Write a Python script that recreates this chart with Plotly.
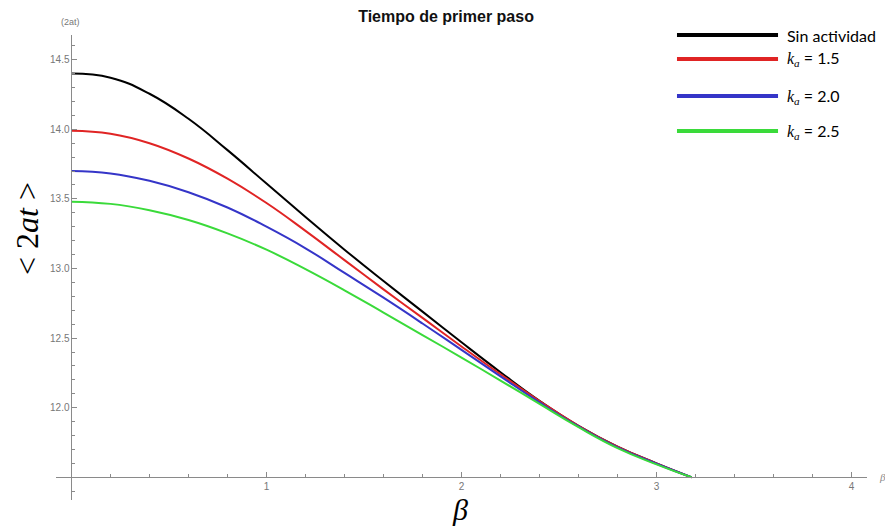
import plotly.graph_objects as go

# ---- data ----
beta = [0, 0.2, 0.4, 0.6, 0.8, 1.0, 1.2, 1.4, 1.6, 1.8, 2.0, 2.2, 2.4, 2.6, 2.8, 3.0, 3.18]
sin_actividad = [14.40, 14.37, 14.255, 14.075, 13.85, 13.61, 13.37, 13.135, 12.91, 12.69, 12.47, 12.255, 12.05, 11.87, 11.72, 11.60, 11.50]
ka_15 = [13.99, 13.968, 13.90, 13.79, 13.645, 13.47, 13.27, 13.06, 12.85, 12.645, 12.44, 12.24, 12.048, 11.87, 11.72, 11.60, 11.50]
ka_20 = [13.70, 13.683, 13.63, 13.548, 13.438, 13.30, 13.145, 12.968, 12.79, 12.605, 12.415, 12.225, 12.038, 11.865, 11.715, 11.597, 11.50]
ka_25 = [13.48, 13.464, 13.418, 13.348, 13.252, 13.135, 12.995, 12.843, 12.683, 12.522, 12.36, 12.195, 12.027, 11.86, 11.71, 11.593, 11.50]

series_names = ["Sin actividad", "k_a = 1.5", "k_a = 2.0", "k_a = 2.5"]
series_vals = [sin_actividad, ka_15, ka_20, ka_25]
series_colors = ["#000000", "#e02424", "#3535c8", "#3ada3a"]
legend_labels = [
    "Sin actividad",
    "<span style='font-family:Liberation Serif'><i>k</i><sub><i>a</i></sub></span> = 1.5",
    "<span style='font-family:Liberation Serif'><i>k</i><sub><i>a</i></sub></span> = 2.0",
    "<span style='font-family:Liberation Serif'><i>k</i><sub><i>a</i></sub></span> = 2.5",
]
legend_y = [1.0, 0.9484, 0.8688, 0.7935]

x_ticks = [1, 2, 3, 4]
y_ticks = [12.0, 12.5, 13.0, 13.5, 14.0, 14.5]

fig = go.Figure()
for name, vals, col in zip(series_names, series_vals, series_colors):
    fig.add_trace(go.Scatter(x=beta, y=vals, mode="lines", name=name,
                             line=dict(color=col, width=2, shape="spline", smoothing=1.3),
                             showlegend=False))

# custom legend
for lab, ly, col in zip(legend_labels, legend_y, series_colors):
    fig.add_shape(type="line", xref="paper", yref="paper", x0=0.7657, x1=0.8903, y0=ly, y1=ly,
                  line=dict(color=col, width=4))
    fig.add_annotation(xref="paper", yref="paper", x=0.8989, y=ly, text=lab, showarrow=False,
                       xanchor="left", yanchor="middle",
                       font=dict(family="Lato", size=16, color="#000"))

axis_gray = "#8a8a8a"
fig.update_layout(
    width=885, height=526,
    margin=dict(l=56, r=18, t=35, b=26),
    paper_bgcolor="white", plot_bgcolor="white",
    title=dict(text="<b>Tiempo de primer paso</b>", x=0.504, y=0.968, xanchor="center", yanchor="middle",
               font=dict(family="Liberation Sans", size=16, color="#111")),
    xaxis=dict(range=[-0.0795, 4.0795], anchor="free", position=0.0488,
               showline=True, linecolor=axis_gray, linewidth=1, showgrid=False, zeroline=False,
               tickmode="array", tickvals=x_ticks, ticktext=[str(v) for v in x_ticks],
               ticks="inside", ticklen=5, tickcolor=axis_gray,
               tickfont=dict(family="Liberation Sans", size=10, color="#777"),
               minor=dict(tickmode="linear", tick0=0, dtick=0.2, ticks="inside", ticklen=3,
                          tickcolor=axis_gray, showgrid=False)),
    yaxis=dict(range=[11.337, 14.677], anchor="free", position=0.0191,
               showline=True, linecolor=axis_gray, linewidth=1, showgrid=False, zeroline=False,
               tickmode="array", tickvals=y_ticks, ticktext=["%.1f" % v for v in y_ticks],
               ticks="inside", ticklen=5, tickcolor=axis_gray,
               tickfont=dict(family="Liberation Sans", size=10, color="#777"),
               minor=dict(tickmode="linear", tick0=0, dtick=0.1, ticks="inside", ticklen=3,
                          tickcolor=axis_gray, showgrid=False)),
)

# axis titles / labels
fig.add_annotation(xref="paper", yref="paper", x=-0.0358, y=0.585, text="&lt; 2<i>at</i> &gt;",
                   textangle=-90, showarrow=False, xanchor="center", yanchor="middle",
                   font=dict(family="Liberation Serif", size=32, color="#000"))
fig.add_annotation(xref="paper", yref="paper", x=0.498, y=-0.0215, text="<i>β</i>",
                   showarrow=False, xanchor="center", yanchor="middle",
                   font=dict(family="Liberation Serif", size=30, color="#000"))
fig.add_annotation(xref="paper", yref="paper", x=1.0123, y=0.0488, text="<i>β</i>",
                   showarrow=False, xanchor="left", yanchor="middle",
                   font=dict(family="Liberation Serif", size=11, color="#888"))
fig.add_annotation(xref="paper", yref="paper", x=0.0173, y=1.028, text="(2at)",
                   showarrow=False, xanchor="center", yanchor="middle",
                   font=dict(family="Liberation Sans", size=9, color="#777"))

fig.write_html("out.html")
